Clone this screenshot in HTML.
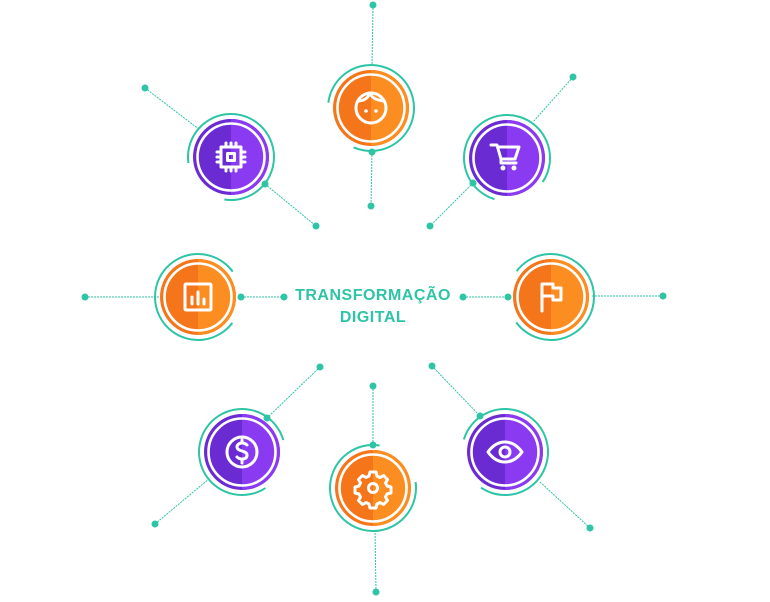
<!DOCTYPE html>
<html><head><meta charset="utf-8">
<style>
html,body{margin:0;padding:0;background:#fff;}
svg{display:block}
</style></head>
<body>
<svg width="770" height="602" viewBox="0 0 770 602" xmlns="http://www.w3.org/2000/svg">
<defs>
  <g id="purple">
    <circle r="38" fill="#6b2bd2"/>
    <path d="M0,-38 A38,38 0 0 1 0,38 Z" fill="#8a3bf2"/>
    <circle r="33.5" fill="none" stroke="#fff" stroke-width="2.6"/>
  </g>
  <g id="orange">
    <circle r="38" fill="#f5751a"/>
    <path d="M0,-38 A38,38 0 0 1 0,38 Z" fill="#fb8d21"/>
    <circle r="33.5" fill="none" stroke="#fff" stroke-width="2.6"/>
  </g>
</defs>

<g stroke="#2ec4a6" stroke-width="1" stroke-dasharray="2 1" fill="none">
  <line x1="145" y1="88" x2="200" y2="130"/>
  <line x1="265" y1="184" x2="316" y2="226"/>
  <line x1="373" y1="5" x2="372" y2="66"/>
  <line x1="372" y1="152" x2="371" y2="206"/>
  <line x1="573" y1="77" x2="533" y2="122"/>
  <line x1="473" y1="183" x2="430" y2="226"/>
  <line x1="85" y1="297" x2="160" y2="297"/>
  <line x1="241" y1="297" x2="284" y2="297"/>
  <line x1="463" y1="297" x2="508" y2="297"/>
  <line x1="592" y1="296" x2="663" y2="296"/>
  <line x1="320" y1="367" x2="267" y2="418"/>
  <line x1="155" y1="524" x2="210" y2="478"/>
  <line x1="373" y1="386" x2="373" y2="445"/>
  <line x1="375" y1="530" x2="376" y2="592"/>
  <line x1="432" y1="366" x2="480" y2="416"/>
  <line x1="540" y1="482" x2="590" y2="528"/>
</g>

<g fill="none" stroke="#2ec4a6" stroke-width="2" stroke-dasharray="215 55">
  <circle cx="231" cy="157" r="43" transform="rotate(172 231 157)"/>
  <circle cx="371" cy="108" r="43" transform="rotate(187 371 108)"/>
  <circle cx="507" cy="158" r="43" transform="rotate(107 507 158)"/>
  <circle cx="198" cy="297" r="43" transform="rotate(37 198 297)"/>
  <circle cx="551" cy="297" r="43" transform="rotate(217 551 297)"/>
  <circle cx="242" cy="452" r="43" transform="rotate(57 242 452)"/>
  <circle cx="373" cy="488" r="43" transform="rotate(-8 373 488)"/>
  <circle cx="505" cy="452" r="43" transform="rotate(197 505 452)"/>
</g>

<g fill="#2ec4a6">
  <circle cx="145" cy="88" r="3.5"/><circle cx="265" cy="184" r="3.5"/><circle cx="316" cy="226" r="3.5"/>
  <circle cx="373" cy="5" r="3.5"/><circle cx="372" cy="152" r="3.5"/><circle cx="371" cy="206" r="3.5"/>
  <circle cx="573" cy="77" r="3.5"/><circle cx="473" cy="183" r="3.5"/><circle cx="430" cy="226" r="3.5"/>
  <circle cx="85" cy="297" r="3.5"/><circle cx="241" cy="297" r="3.5"/><circle cx="284" cy="297" r="3.5"/>
  <circle cx="463" cy="297" r="3.5"/><circle cx="508" cy="297" r="3.5"/><circle cx="663" cy="296" r="3.5"/>
  <circle cx="320" cy="367" r="3.5"/><circle cx="267" cy="418" r="3.5"/><circle cx="155" cy="524" r="3.5"/>
  <circle cx="373" cy="386" r="3.5"/><circle cx="373" cy="445" r="3.5"/><circle cx="376" cy="592" r="3.5"/>
  <circle cx="432" cy="366" r="3.5"/><circle cx="480" cy="416" r="3.5"/><circle cx="590" cy="528" r="3.5"/>
</g>

<use href="#purple" x="231" y="157"/>
<use href="#orange" x="371" y="108"/>
<use href="#purple" x="507" y="158"/>
<use href="#orange" x="198" y="297"/>
<use href="#orange" x="551" y="297"/>
<use href="#purple" x="242" y="452"/>
<use href="#orange" x="373" y="488"/>
<use href="#purple" x="505" y="452"/>

<g fill="none" stroke="#fff" stroke-width="3" stroke-linecap="round" stroke-linejoin="round">
  <rect x="221" y="147" width="20" height="20"/>
  <rect x="227.5" y="153.5" width="7" height="7"/>
  <path d="M226 143v4M231 143v4M236 143v4M226 167v4M231 167v4M236 167v4M217 152h4M217 157h4M217 162h4M241 152h4M241 157h4M241 162h4"/>
  <circle cx="371" cy="108" r="15"/>
  <path d="M358 101c6 0 10-3 12-8c2 5 6 7 14 8"/>
  <path d="M491 145h6l4 14h14l4-12h-21M501 159v4h15"/>
  <rect x="185" y="284" width="26" height="26" rx="1"/>
  <path d="M192 304v-7M198 304v-12M204 304v-5"/>
  <path d="M542 311v-27h11v4h8v12h-8v-4h-11"/>
  <circle cx="242" cy="452" r="15"/>
  <path d="M247 445c-2-2-4-2-5-2c-3 0-5 2-5 4c0 5 10 3 10 8c0 3-2 4-5 4c-2 0-4-1-5-2M242 440v3M242 459v4"/>
  <path d="M370 472h6l1 4l3 1.5l3.5-2l4 4l-2 3.5l1.5 3l4 1v6l-4 1l-1.5 3l2 3.5l-4 4l-3.5-2l-3 1.5l-1 4h-6l-1-4l-3-1.5l-3.5 2l-4-4l2-3.5l-1.5-3l-4-1v-6l4-1l1.5-3l-2-3.5l4-4l3.5 2l3-1.5z"/>
  <circle cx="373" cy="488" r="4.5"/>
  <path d="M488 452c5-7 11-10 17-10s12 3 17 10c-5 7-11 10-17 10s-12-3-17-10z"/>
  <circle cx="505" cy="452" r="5"/>
</g>
<g fill="#fff">
  <circle cx="366" cy="111" r="1.8"/><circle cx="376" cy="111" r="1.8"/>
  <circle cx="503" cy="168" r="2.5"/><circle cx="514" cy="168" r="2.5"/>
</g>

<text x="373" y="300" text-anchor="middle" font-family="Liberation Sans, sans-serif" font-weight="700" font-size="16" fill="#2ec4a6" letter-spacing="0.5">TRANSFORMAÇÃO</text>
<text x="373" y="322" text-anchor="middle" font-family="Liberation Sans, sans-serif" font-weight="700" font-size="16" fill="#2ec4a6" letter-spacing="0.5">DIGITAL</text>
</svg>
</body></html>
